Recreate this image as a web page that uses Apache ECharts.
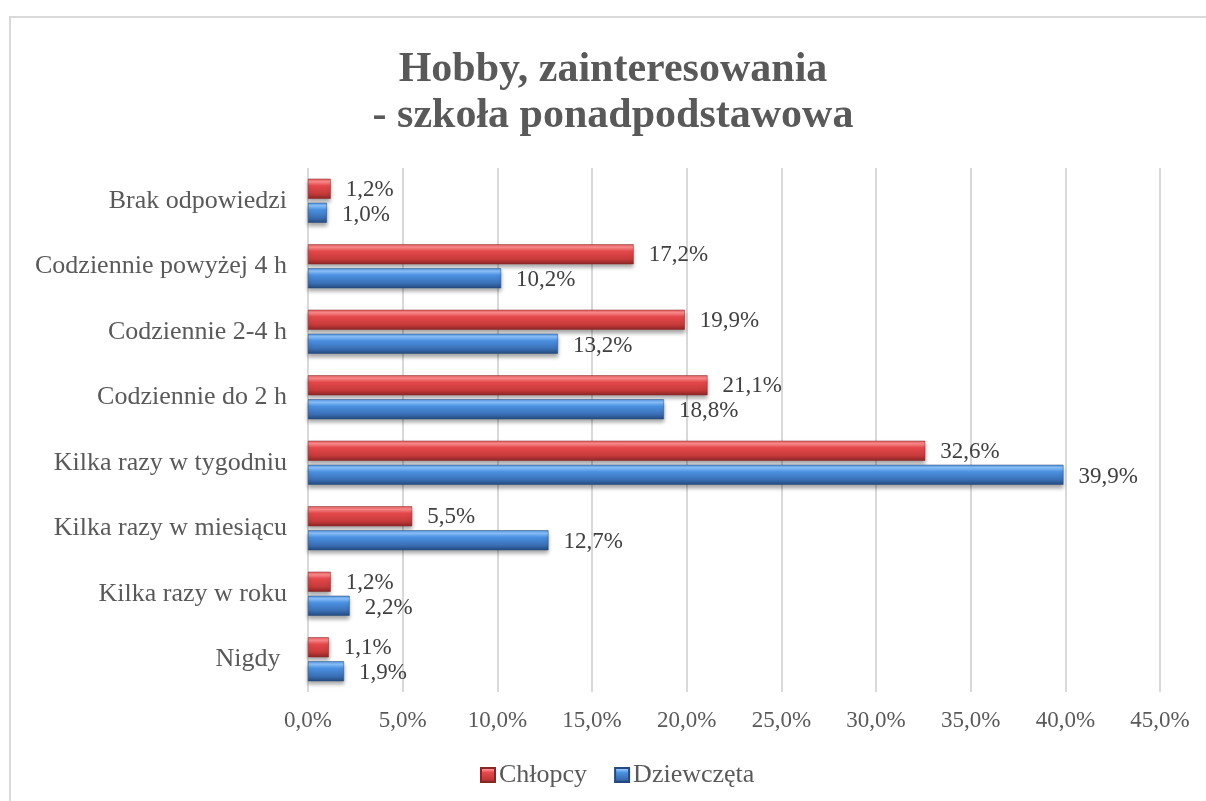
<!DOCTYPE html>
<html>
<head>
<meta charset="utf-8">
<script src="https://cdn.jsdelivr.net/npm/echarts@6/dist/echarts.min.js"></script>
<style>
  html, body { margin: 0; padding: 0; background: #fff; overflow: hidden; width: 1206px; height: 801px; }
  #frame { position: absolute; left: 9px; top: 16px; right: 0; bottom: 0; border-top: 2px solid #d9d9d9; border-left: 2px solid #d9d9d9; }
  /* przesunięte o 10px, żeby tytuł wypadł na środku jak w oryginale */
  #chart { position: absolute; left: 10px; top: 0; width: 1206px; height: 801px; }
</style>
</head>
<body>
<div id="frame"></div>
<div id="chart"></div>
<script>
  // kategorie od dołu do góry
  var categories = ['Nigdy ', 'Kilka razy w roku', 'Kilka razy w miesiącu', 'Kilka razy w tygodniu',
    'Codziennie do 2 h', 'Codziennie 2-4 h', 'Codziennie powyżej 4 h', 'Brak odpowiedzi'];
  var chlopcy = [1.1, 1.2, 5.5, 32.6, 21.1, 19.9, 17.2, 1.2];
  var dziewczeta = [1.9, 2.2, 12.7, 39.9, 18.8, 13.2, 10.2, 1.0];
  var seriesNames = ['Chłopcy', 'Dziewczęta'];

  var serif = '"Liberation Serif", "Times New Roman", serif';

  function pct(v) {
    return Number(v).toFixed(1).replace('.', ',') + '%';
  }

  var redFill = new echarts.graphic.LinearGradient(0, 0, 0, 1, [
    {offset: 0, color: '#e25a5c'},
    {offset: 0.15, color: '#ff8c8c'},
    {offset: 0.35, color: '#e5484b'},
    {offset: 0.75, color: '#c63a3a'},
    {offset: 1, color: '#8a2626'}
  ]);
  var blueFill = new echarts.graphic.LinearGradient(0, 0, 0, 1, [
    {offset: 0, color: '#4f8fd8'},
    {offset: 0.15, color: '#8cc4ff'},
    {offset: 0.35, color: '#4b91e2'},
    {offset: 0.75, color: '#3a6fb5'},
    {offset: 1, color: '#244a7d'}
  ]);

  var myChart = echarts.init(document.getElementById('chart'));
  var option = {
    animation: false,
    title: {
      text: 'Hobby, zainteresowania\n- szkoła ponadpodstawowa',
      left: 'center',
      top: 42,
      textStyle: {
        fontFamily: serif,
        fontSize: 42,
        fontWeight: 'bold',
        color: '#595959',
        lineHeight: 46
      }
    },
    legend: {
      data: seriesNames,
      top: 757,
      left: 465,
      icon: 'rect',
      itemWidth: 14,
      itemHeight: 14,
      itemGap: 27,
      textStyle: {fontFamily: serif, fontSize: 26, color: '#595959', padding: [0, 0, 0, -1]}
    },
    grid: {
      left: 298,
      right: 56,
      top: 168,
      bottom: 109,
      containLabel: false
    },
    xAxis: {
      type: 'value',
      min: 0,
      max: 45,
      interval: 5,
      axisLine: {show: false},
      axisTick: {show: false},
      splitLine: {lineStyle: {color: '#d9d9d9', width: 2}},
      axisLabel: {
        margin: 17,
        fontFamily: serif,
        fontSize: 23,
        color: '#595959',
        formatter: pct
      }
    },
    yAxis: {
      type: 'category',
      data: categories,
      axisLine: {show: false},
      axisTick: {show: false},
      axisLabel: {
        margin: 21,
        fontFamily: serif,
        fontSize: 26,
        color: '#595959'
      }
    },
    series: [
      {
        name: seriesNames[0],
        type: 'bar',
        data: chlopcy,
        barWidth: 20,
        barGap: '20%',
        itemStyle: {
          color: redFill,
          borderColor: '#8a2626',
          borderWidth: 0.5,
          shadowColor: 'rgba(0,0,0,0.35)',
          shadowBlur: 4,
          shadowOffsetY: 3
        },
        label: {
          show: true,
          position: 'right',
          distance: 15,
          offset: [0, 1],
          fontFamily: serif,
          fontSize: 23,
          color: '#404040',
          formatter: function (p) { return pct(p.value); }
        }
      },
      {
        name: seriesNames[1],
        type: 'bar',
        data: dziewczeta,
        barWidth: 20,
        itemStyle: {
          color: blueFill,
          borderColor: '#244a7d',
          borderWidth: 0.5,
          shadowColor: 'rgba(0,0,0,0.35)',
          shadowBlur: 4,
          shadowOffsetY: 3
        },
        label: {
          show: true,
          position: 'right',
          distance: 15,
          offset: [0, 2],
          fontFamily: serif,
          fontSize: 23,
          color: '#404040',
          formatter: function (p) { return pct(p.value); }
        }
      }
    ]
  };
  myChart.setOption(option);
</script>
</body>
</html>
